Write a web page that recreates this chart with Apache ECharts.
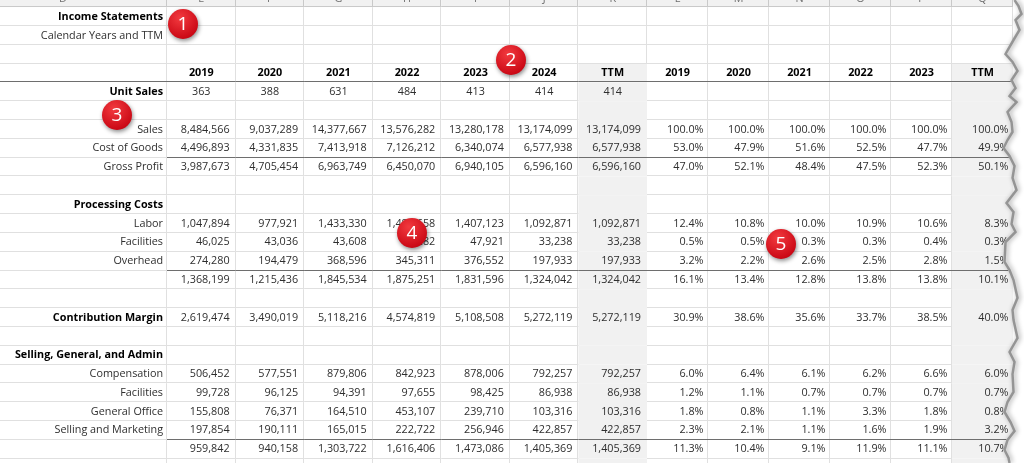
<!DOCTYPE html>
<html><head><meta charset="utf-8">
<script src="https://cdn.jsdelivr.net/npm/echarts@6/dist/echarts.min.js"></script>
<style>html,body{margin:0;padding:0;background:#fff}#c{width:1024px;height:463px}</style>
</head><body><div id="c"></div>
<script>
// ---------- data ----------
const colLetters = ['D','E','F','G','H','I','J','K','L','M','N','O','P','Q'];
const years = ['2019','2020','2021','2022','2023','2024','TTM'];
const pctYears = ['2019','2020','2021','2022','2023','TTM'];
const title = 'Income Statements';
const subtitle = 'Calendar Years and TTM';

const unitSales        = [363, 388, 631, 484, 413, 414, 414];
const sales            = [8484566, 9037289, 14377667, 13576282, 13280178, 13174099, 13174099];
const costOfGoods      = [4496893, 4331835, 7413918, 7126212, 6340074, 6577938, 6577938];
const grossProfit      = [3987673, 4705454, 6963749, 6450070, 6940105, 6596160, 6596160];
const labor            = [1047894, 977921, 1433330, 1485658, 1407123, 1092871, 1092871];
const procFacilities   = [46025, 43036, 43608, 44282, 47921, 33238, 33238];
const overhead         = [274280, 194479, 368596, 345311, 376552, 197933, 197933];
const procTotal        = [1368199, 1215436, 1845534, 1875251, 1831596, 1324042, 1324042];
const contribution     = [2619474, 3490019, 5118216, 4574819, 5108508, 5272119, 5272119];
const compensation     = [506452, 577551, 879806, 842923, 878006, 792257, 792257];
const sgaFacilities    = [99728, 96125, 94391, 97655, 98425, 86938, 86938];
const generalOffice    = [155808, 76371, 164510, 453107, 239710, 103316, 103316];
const sellingMarketing = [197854, 190111, 165015, 222722, 256946, 422857, 422857];
const sgaTotal         = [959842, 940158, 1303722, 1616406, 1473086, 1405369, 1405369];

const pctSales        = [100.0, 100.0, 100.0, 100.0, 100.0, 100.0];
const pctCost         = [53.0, 47.9, 51.6, 52.5, 47.7, 49.9];
const pctGross        = [47.0, 52.1, 48.4, 47.5, 52.3, 50.1];
const pctLabor        = [12.4, 10.8, 10.0, 10.9, 10.6, 8.3];
const pctProcFac      = [0.5, 0.5, 0.3, 0.3, 0.4, 0.3];
const pctOverhead     = [3.2, 2.2, 2.6, 2.5, 2.8, 1.5];
const pctProcTotal    = [16.1, 13.4, 12.8, 13.8, 13.8, 10.1];
const pctContribution = [30.9, 38.6, 35.6, 33.7, 38.5, 40.0];
const pctComp         = [6.0, 6.4, 6.1, 6.2, 6.6, 6.0];
const pctSgaFac       = [1.2, 1.1, 0.7, 0.7, 0.7, 0.7];
const pctGenOffice    = [1.8, 0.8, 1.1, 3.3, 1.8, 0.8];
const pctSellMkt      = [2.3, 2.1, 1.1, 1.6, 1.9, 3.2];
const pctSgaTotal     = [11.3, 10.4, 9.1, 11.9, 11.1, 10.7];

// sheet rows (row 0 = column-letter header)
const rowLabels = ['', title, subtitle, '', '', 'Unit Sales', '', 'Sales', 'Cost of Goods', 'Gross Profit', '',
  'Processing Costs', 'Labor', 'Facilities', 'Overhead', '', '', 'Contribution Margin', '',
  'Selling, General, and Admin', 'Compensation', 'Facilities', 'General Office', 'Selling and Marketing', '', ''];
const boldRows = [1, 5, 11, 17, 19];
const bodyRows = [
  [7, sales, pctSales], [8, costOfGoods, pctCost], [9, grossProfit, pctGross],
  [12, labor, pctLabor], [13, procFacilities, pctProcFac], [14, overhead, pctOverhead], [15, procTotal, pctProcTotal],
  [17, contribution, pctContribution],
  [20, compensation, pctComp], [21, sgaFacilities, pctSgaFac], [22, generalOffice, pctGenOffice],
  [23, sellingMarketing, pctSellMkt], [24, sgaTotal, pctSgaTotal]
];
const underlineRows = [8, 14, 23];
const headerRow = 4, unitRow = 5;

// ---------- layout / style ----------
const RH = 18.8, ROWS = 26, TOP = 7.3 - RH;
const FONT = '"Open Sans", "Noto Sans", sans-serif';
const FS = 10.8;
const GRID = '#e0e0e0';
const rowIds = rowLabels.map((_, i) => 'r' + i);

function fmtNum(v) { return v.toLocaleString('en-US'); }
function fmtPct(v) { return v.toFixed(1) + '%'; }

function buildCells(nCols, letterOffset, kind) {
  const data = [], meta = [];
  for (let r = 0; r < ROWS; r++) {
    for (let c = 0; c < nCols; c++) {
      const m = {text: '', align: 'right', pad: 6, bold: false, color: '#2e2e2e', bg: '#ffffff', shade: false, under: false, hdr: false, dy: 0};
      if (r === 0) {
        m.hdr = true; m.bg = '#f1f1f1'; m.text = colLetters[letterOffset + c]; m.align = 'center'; m.color = '#707070'; m.dy = 1.5;
      } else if (kind === 'label') {
        m.text = rowLabels[r]; m.pad = 4;
        if (boldRows.includes(r)) { m.bold = true; m.color = '#000'; }
        if (r === headerRow) m.under = true;
      } else {
        const ttm = (kind === 'val' && c === 6) || (kind === 'pct' && c === 5);
        if (ttm && r >= headerRow) { m.shade = true; m.bg = '#f1f1f1'; }
        if (r === headerRow) {
          m.text = kind === 'val' ? years[c] : pctYears[c];
          m.align = 'center'; m.bold = true; m.color = '#000'; m.under = true;
        } else if (r === unitRow && kind === 'val') {
          m.text = String(unitSales[c]); m.align = 'center';
        } else {
          const br = bodyRows.find(b => b[0] === r);
          if (br) {
            if (kind === 'val') { m.text = fmtNum(br[1][c]); m.pad = 6; }
            else { m.text = fmtPct(br[2][c]); m.pad = 4.5; }
          }
          if (underlineRows.includes(r)) m.under = true;
        }
      }
      data.push([c, r]);
      meta.push(m);
    }
  }
  return {data, meta};
}

function crisp(v) { return Math.round(v) + 0.5; }

function makeRender(meta) {
  return function (params, api) {
    const m = meta[params.dataIndex];
    const p = api.coord([api.value(0), api.value(1)]);
    const s = api.size([1, 1]);
    const w = s[0], h = s[1];
    const x0 = p[0] - w / 2, y0 = p[1] - h / 2, x1 = x0 + w, y1 = y0 + h;
    const ch = [];
    ch.push({type: 'rect', shape: {x: x0, y: y0, width: w, height: h}, style: {fill: m.bg}, z2: 0});
    if (!m.shade) {
      const lc = m.hdr ? '#c9c9c9' : GRID;
      ch.push({type: 'line', shape: {x1: crisp(x1) - 1, y1: y0, x2: crisp(x1) - 1, y2: y1}, style: {stroke: lc, lineWidth: 1}, z2: 1});
      ch.push({type: 'line', shape: {x1: x0, y1: crisp(y1) - 1, x2: x1, y2: crisp(y1) - 1}, style: {stroke: lc, lineWidth: 1}, z2: 1});
    }
    if (m.under) {
      ch.push({type: 'line', shape: {x1: x0, y1: crisp(y1) - 1, x2: x1, y2: crisp(y1) - 1}, style: {stroke: '#6e6e6e', lineWidth: 1}, z2: 3});
    }
    if (m.text) {
      let tx = m.align === 'center' ? p[0] : (m.align === 'right' ? x1 - m.pad : x0 + m.pad);
      ch.push({type: 'text', style: {text: m.text, x: tx, y: p[1] + m.dy, align: m.align, verticalAlign: 'middle',
        fontSize: FS, fontFamily: FONT, fontWeight: m.bold ? 'bold' : 'normal', fill: m.color}, z2: 4});
    }
    return {type: 'group', children: ch};
  };
}

const A = buildCells(1, 0, 'label');
const B = buildCells(7, 1, 'val');
const C = buildCells(6, 8, 'pct');

// ---------- decorations ----------
const tearEdge = [[1013,0],[1017,6],[1020,14],[1014,20],[1018,30],[1012,40],[1004,54],[1011,62],[1016,71],[1010,80],
  [1014,88],[1008,96],[1015,102],[1006,112],[1010,122],[1011,132],[1006,140],[1002,148],[1008,156],[1013,166],
  [1011,178],[1015,190],[1005,203],[1012,212],[1010,224],[1014,232],[1004,242],[1003,262],[1008,270],[1012,280],
  [1016,298],[1011,310],[1012,320],[1016,338],[1008,352],[1013,362],[1011,374],[1012,392],[1006,402],[1003,412],
  [1009,422],[1013,431],[1006,440],[1003,450],[1007,458],[1008,463]];
const badges = [['1', 183, 24], ['2', 511, 60], ['3', 117, 115], ['4', 412, 233], ['5', 781, 244]];

function badge(b) {
  return [
    {type: 'circle', z: 100, shape: {cx: b[1], cy: b[2], r: 15}, style: {
      fill: new echarts.graphic.RadialGradient(0.4, 0.3, 0.8, [{offset: 0, color: '#f23a3f'}, {offset: 1, color: '#c4000e'}]),
      shadowBlur: 4, shadowColor: 'rgba(0,0,0,0.45)', shadowOffsetY: 2, shadowOffsetX: 1}},
    {type: 'text', z: 101, x: b[1], y: b[2] + 1, style: {text: b[0], x: 0, y: 0, align: 'center', verticalAlign: 'middle', fontSize: 19, fontFamily: FONT, fill: '#fff'}}
  ];
}

const chart = echarts.init(document.getElementById('c'), null, {renderer: 'canvas'});
const H = ROWS * RH;
const grids = [
  {left: -41, top: TOP, width: 208, height: H, outerBoundsMode: 'none', containLabel: false},
  {left: 167, top: TOP, width: 480, height: H, outerBoundsMode: 'none', containLabel: false},
  {left: 647, top: TOP, width: 366, height: H, outerBoundsMode: 'none', containLabel: false}
];
chart.setOption({
  animation: false,
  backgroundColor: '#ffffff',
  grid: grids,
  xAxis: [
    {gridIndex: 0, type: 'category', data: colLetters.slice(0, 1), show: false},
    {gridIndex: 1, type: 'category', data: years, show: false},
    {gridIndex: 2, type: 'category', data: pctYears, show: false}
  ],
  yAxis: [0, 1, 2].map(i => ({gridIndex: i, type: 'category', data: rowIds, inverse: true, show: false})),
  series: [
    {type: 'custom', xAxisIndex: 0, yAxisIndex: 0, data: A.data, renderItem: makeRender(A.meta), silent: true, clip: false},
    {type: 'custom', xAxisIndex: 1, yAxisIndex: 1, data: B.data, renderItem: makeRender(B.meta), silent: true, clip: false},
    {type: 'custom', xAxisIndex: 2, yAxisIndex: 2, data: C.data, renderItem: makeRender(C.meta), silent: true, clip: false}
  ],
  graphic: [
    {type: 'polygon', z: 90, shape: {points: tearEdge.concat([[1024, 463], [1024, 0]])}, style: {fill: '#ffffff'}},
    {type: 'polyline', z: 91, x: 1.5, shape: {points: tearEdge}, style: {stroke: 'rgba(130,130,130,0.8)', lineWidth: 2.5,
      shadowBlur: 5, shadowColor: 'rgba(0,0,0,0.5)', shadowOffsetX: 1.5}},
  ].concat(...badges.map(badge))
});
</script>
</body></html>
